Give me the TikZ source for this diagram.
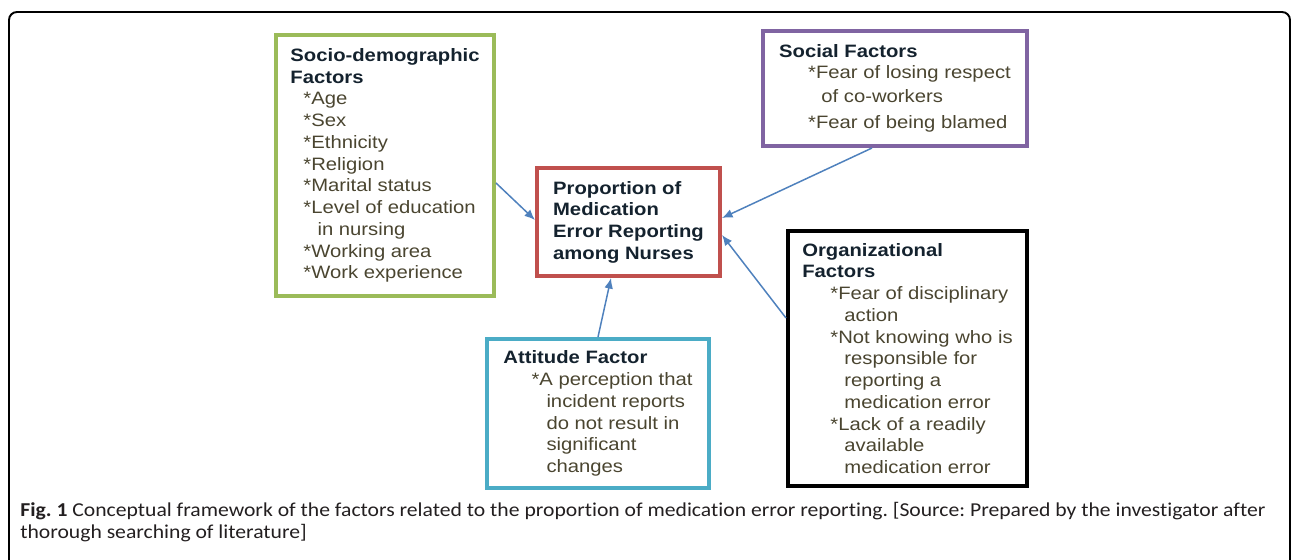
\documentclass[tikz,border=0pt]{standalone}
\usepackage{fontspec}
\setmainfont{Liberation Sans}[FakeStretch=1.13]
\newfontfamily\capfont{Carlito}[FakeStretch=1.1, Ligatures=NoCommon]
\usetikzlibrary{arrows.meta}
\frenchspacing

\definecolor{facgreen}{HTML}{9BBB59}
\definecolor{facred}{HTML}{C0504D}
\definecolor{facpurple}{HTML}{8064A2}
\definecolor{faccyan}{HTML}{4BACC6}
\definecolor{arrowblue}{HTML}{4F81BD}
\definecolor{headcol}{HTML}{14222E}
\definecolor{bodycol}{HTML}{4A4530}
\definecolor{capcol}{HTML}{231F20}

\newcommand{\hd}[1]{{\bfseries\color{headcol}#1}}

\tikzset{
  factor/.style={draw=#1, line width=2.3pt, align=left, inner sep=0pt,
    text=bodycol, font=\fontsize{10.2}{12.37}\selectfont},
  link/.style={->, arrowblue, line width=0.85pt},
  frame/.style={line width=1.1pt, rounded corners=0.16cm},
  caption/.style={anchor=base west, inner sep=0pt, text=capcol,
    font=\capfont\fontsize{11.2}{12}\selectfont}
}

\begin{document}
\begin{tikzpicture}[x=0.02cm, y=-0.02cm, >={Latex[length=6pt,width=5pt]}]
\useasboundingbox (0,0) rectangle (1292,559);

% outer frame
\draw[frame] (9,570) -- (9,12) -- (1290,12) -- (1290,570);

% factor boxes
\node[factor=facgreen, minimum width=4.36cm, minimum height=5.22cm] (socio) at (385,165.5)
  {\hd{Socio-demographic}\\ \hd{Factors}\\
   \hspace*{7.4pt}*Age\\ \hspace*{7.4pt}*Sex\\ \hspace*{7.4pt}*Ethnicity\\
   \hspace*{7.4pt}*Religion\\ \hspace*{7.4pt}*Marital status\\
   \hspace*{7.4pt}*Level of education\\ \hspace*{15.4pt}in nursing\\
   \hspace*{7.4pt}*Working area\\ \hspace*{7.4pt}*Work experience};

\node[factor=facred, minimum width=3.66cm, minimum height=2.16cm] (prop) at (628.5,222)
  {\hd{Proportion of}\\ \hd{Medication}\\ \hd{Error Reporting}\\ \hd{among Nurses}};

\node[factor=facpurple, minimum width=5.28cm, minimum height=2.3cm] (social) at (895,88.5)
  {\hd{Social Factors}\\[-0.4pt]
   \hspace*{16.5pt}*Fear of losing respect\\[1pt]
   \hspace*{24pt}of co-workers\\[2.5pt]
   \hspace*{16.5pt}*Fear of being blamed};

\node[factor=black, minimum width=4.78cm, minimum height=5.1cm] (organ) at (907.5,358.5)
  {\hd{Organizational}\\ \hd{Factors}\\
   \hspace*{16pt}*Fear of disciplinary\\ \hspace*{24pt}action\\
   \hspace*{16pt}*Not knowing who is\\ \hspace*{24pt}responsible for\\
   \hspace*{24pt}reporting a\\ \hspace*{24pt}medication error\\
   \hspace*{16pt}*Lack of a readily\\ \hspace*{24pt}available\\
   \hspace*{24pt}medication error};

\node[factor=faccyan, minimum width=4.44cm, minimum height=2.98cm] (attit) at (598,413.5)
  {\hd{Attitude Factor}\\
   \hspace*{16pt}*A perception that\\ \hspace*{24.5pt}incident reports\\
   \hspace*{24.5pt}do not result in\\ \hspace*{24.5pt}significant\\
   \hspace*{24.5pt}changes};

% links into the central box
\draw[link] (socio.east |- 0,183) -- (prop.west |- 0,220);
\draw[link] (social.south -| 872,0) -- (prop.east |- 0,218);
\draw[link] (organ.west |- 0,318) -- (prop.east |- 0,235);
\draw[link] (attit.north -| 598,0) -- (prop.south -| 611,0);

% caption
\node[caption] (cap1) at (20,516)
  {\textbf{Fig. 1} Conceptual framework of the factors related to the proportion of medication error reporting. [Source: Prepared by the investigator after};
\node[caption] (cap2) at (20,538)
  {thorough searching of literature]};
\end{tikzpicture}
\end{document}
